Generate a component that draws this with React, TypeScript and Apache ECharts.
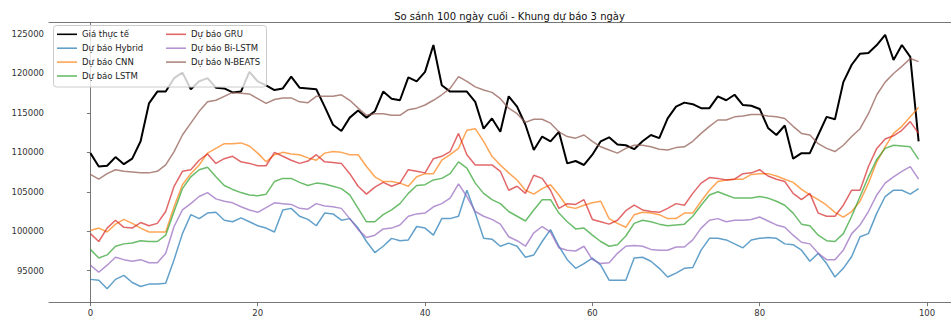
import React, { useEffect, useRef } from "react";
import * as echarts from "echarts";

const TITLE = "So sánh 100 ngày cuối - Khung dự báo 3 ngày";
const SERIES_NAMES = [
  "Giá thực tế",
  "Dự báo Hybrid",
  "Dự báo CNN",
  "Dự báo LSTM",
  "Dự báo GRU",
  "Dự báo Bi-LSTM",
  "Dự báo N-BEATS",
];
const X_TICKS = [0, 20, 40, 60, 80, 100];
const Y_TICKS = [95000, 100000, 105000, 110000, 115000, 120000, 125000];

// values in thousands
const actual = [
  109.9, 108.2, 108.3, 109.4, 108.5, 109.2, 111.4, 116.2, 117.7, 117.7,
  119.4, 120.1, 118.0, 119.0, 119.4, 118.2, 118.1, 117.6, 117.7, 120.2,
  119.0, 118.5, 117.9, 118.1, 119.6, 118.2, 118.1, 118.0, 115.8, 113.5,
  112.7, 114.4, 115.3, 114.4, 115.2, 117.7, 116.8, 116.6, 119.5, 119.0,
  120.2, 123.6, 118.5, 117.7, 117.7, 117.7, 116.4, 113.0, 114.3, 112.6,
  117.1, 115.8, 113.5, 110.3, 112.0, 111.4, 112.6, 108.6, 108.9, 108.4,
  109.7, 111.4, 111.9, 111.0, 110.9, 110.4, 111.4, 112.2, 111.8, 114.3,
  115.8, 116.3, 116.1, 115.6, 115.6, 117.1, 116.6, 117.3, 116.0, 115.9,
  115.5, 113.1, 112.2, 113.4, 109.2, 109.9, 109.9, 112.2, 114.5, 114.2,
  118.9, 121.1, 122.5, 122.6, 123.6, 124.9, 121.7, 123.6, 122.1, 111.4,
];
const hybrid = [
  93.9, 93.8, 92.7, 93.9, 94.4, 93.5, 93.0, 93.3, 93.3, 93.4,
  96.4, 99.7, 102.1, 101.6, 102.3, 102.4, 101.4, 101.2, 101.7, 101.2,
  100.7, 100.4, 99.9, 102.7, 102.9, 101.9, 101.5, 100.7, 102.3, 102.2,
  101.4, 101.6, 100.4, 98.7, 97.3, 98.1, 99.1, 98.8, 98.9, 100.6,
  100.4, 99.5, 101.6, 101.6, 101.9, 105.2, 102.3, 99.1, 99.0, 98.1,
  98.5, 98.1, 96.7, 97.0, 98.7, 100.2, 98.1, 96.4, 95.3, 95.9,
  96.6, 95.7, 93.8, 93.8, 93.8, 96.6, 96.7, 96.2, 95.3, 94.2,
  94.7, 95.3, 95.4, 97.6, 99.1, 99.1, 98.9, 98.4, 97.9, 98.9,
  99.1, 99.2, 99.1, 98.4, 98.3, 97.6, 96.2, 97.2, 95.9, 94.2,
  95.3, 96.8, 99.3, 99.7, 102.3, 104.4, 105.2, 105.2, 104.7, 105.4,
];
const cnn = [
  100.1, 100.4, 99.9, 100.9, 101.5, 101.0, 100.4, 99.9, 99.9, 99.9,
  103.1, 105.9, 107.3, 108.4, 109.9, 110.5, 111.1, 111.1, 111.2, 110.8,
  109.9, 108.8, 109.7, 110.0, 109.8, 109.7, 109.3, 109.0, 109.9, 110.1,
  110.0, 109.7, 109.7, 108.2, 106.9, 106.3, 106.3, 106.1, 105.7, 106.9,
  107.3, 107.3, 109.0, 109.7, 110.5, 112.8, 113.0, 111.4, 109.5, 108.4,
  107.4, 106.5, 105.2, 104.7, 105.4, 105.9, 104.6, 103.1, 102.9, 103.3,
  103.6, 103.8, 101.6, 101.0, 100.5, 102.1, 102.4, 102.3, 102.1, 101.6,
  101.6, 102.3, 102.3, 103.8, 105.2, 106.3, 106.5, 106.6, 106.6, 107.2,
  107.3, 107.3, 107.0, 106.6, 106.2, 105.3, 104.6, 104.0, 103.3, 102.4,
  101.8, 102.5, 103.8, 106.1, 108.8, 110.7, 112.4, 113.3, 114.5, 115.7,
];
const lstm = [
  97.7, 96.6, 97.0, 98.1, 98.4, 98.5, 98.8, 98.7, 98.7, 99.5,
  102.5, 105.4, 106.9, 107.8, 108.1, 106.9, 105.8, 105.3, 104.9, 104.6,
  104.5, 104.7, 106.3, 106.7, 106.7, 106.2, 105.8, 106.1, 106.0, 105.7,
  105.4, 104.6, 102.9, 101.2, 101.2, 102.1, 102.7, 103.5, 104.8, 105.8,
  105.9, 106.5, 106.7, 107.3, 108.8, 108.0, 106.1, 104.8, 104.0, 103.5,
  102.5, 101.9, 101.3, 102.7, 104.0, 104.0, 102.3, 101.2, 100.3, 100.4,
  99.5, 98.7, 98.1, 98.3, 99.4, 101.0, 101.4, 101.2, 100.9, 100.7,
  100.8, 100.9, 101.9, 103.3, 104.6, 105.0, 104.6, 104.2, 104.2, 104.2,
  104.4, 104.2, 103.8, 103.3, 102.3, 100.9, 100.7, 99.5, 98.8, 98.7,
  99.7, 101.9, 104.4, 106.9, 109.1, 110.5, 110.9, 110.8, 110.7, 109.1,
];
const gru = [
  99.7, 98.7, 100.4, 101.4, 100.5, 100.4, 101.1, 100.7, 101.0, 102.5,
  105.7, 107.6, 107.8, 109.0, 109.8, 108.6, 109.2, 109.5, 108.8, 108.6,
  108.3, 108.3, 110.0, 109.5, 109.0, 108.6, 108.9, 109.7, 108.8, 108.7,
  108.6, 107.3, 105.7, 104.7, 105.6, 106.2, 105.7, 106.1, 107.8, 107.6,
  107.4, 109.2, 109.5, 110.1, 112.4, 109.7, 108.4, 108.4, 108.4, 107.6,
  105.2, 105.7, 104.8, 107.1, 106.7, 105.2, 102.9, 103.5, 103.4, 104.0,
  101.5, 101.2, 100.9, 101.4, 102.6, 103.3, 102.7, 102.5, 102.4, 102.9,
  103.5, 103.3, 104.8, 106.1, 106.8, 106.7, 106.5, 106.6, 107.3, 107.4,
  107.8, 107.0, 106.6, 106.3, 104.8, 104.0, 104.8, 102.3, 101.9, 101.9,
  103.3, 105.2, 105.2, 108.2, 110.5, 111.7, 112.1, 112.8, 113.9, 112.4,
];
const bilstm = [
  95.7, 94.8, 95.7, 96.7, 96.4, 96.2, 96.4, 96.0, 96.0, 97.2,
  100.6, 102.7, 103.5, 104.4, 104.9, 104.1, 103.8, 103.6, 103.1, 102.7,
  102.4, 103.0, 103.6, 103.5, 103.4, 102.9, 102.8, 103.5, 103.2, 103.1,
  102.9, 101.6, 100.2, 99.2, 99.5, 100.3, 100.4, 100.8, 101.9, 102.2,
  102.3, 103.1, 103.5, 104.2, 106.0, 104.4, 102.5, 101.9, 101.5, 100.9,
  99.3, 98.8, 98.1, 99.8, 100.6, 99.9, 97.9, 97.6, 97.5, 98.1,
  96.4, 95.9, 96.0, 97.2, 98.1, 98.2, 98.1, 97.7, 97.6, 97.6,
  98.0, 98.0, 98.9, 100.4, 101.4, 101.6, 101.2, 101.4, 101.4, 101.5,
  101.8, 101.3, 100.8, 100.5, 99.5, 98.6, 98.4, 97.2, 96.4, 96.4,
  97.6, 99.7, 100.8, 102.5, 104.6, 106.1, 106.9, 107.6, 108.2, 106.6,
];
const nbeats = [
  107.2, 106.6, 107.3, 107.8, 107.6, 107.5, 107.4, 107.4, 107.6, 108.4,
  110.1, 112.2, 113.7, 115.2, 116.4, 116.6, 117.1, 117.6, 117.5, 117.4,
  116.8, 116.2, 116.7, 116.9, 116.9, 116.4, 116.3, 117.1, 117.1, 117.1,
  117.3, 116.6, 115.6, 114.7, 114.9, 114.9, 114.7, 114.7, 115.4, 115.6,
  116.0, 116.6, 117.3, 118.1, 119.6, 119.0, 118.3, 117.9, 117.6, 116.8,
  115.6, 114.9, 113.8, 114.2, 114.2, 113.7, 112.6, 112.0, 111.8, 112.2,
  111.4, 110.7, 110.3, 109.9, 110.5, 110.9, 110.9, 110.7, 110.4, 110.3,
  110.6, 110.7, 111.4, 112.4, 113.3, 114.1, 114.1, 114.5, 114.6, 114.8,
  114.8, 114.6, 114.5, 114.3, 113.3, 112.4, 112.2, 111.1, 110.5, 110.1,
  110.9, 112.0, 113.0, 114.9, 117.3, 118.9, 120.0, 120.9, 121.9, 121.5,
];

const ALL = [actual, hybrid, cnn, lstm, gru, bilstm, nbeats];
const COLORS = ["#000000", "#1f77b4", "#ff7f0e", "#2ca02c", "#d62728", "#9467bd", "#8c564b"];
const FONT = "DejaVu Sans";

export default function App() {
  const ref = useRef<HTMLDivElement>(null);
  useEffect(() => {
    if (!ref.current) return;
    const chart = echarts.init(ref.current, null, { renderer: "svg" });
    const series = ALL.map((arr, k) => ({
      name: SERIES_NAMES[k],
      type: "line",
      xAxisIndex: 0,
      yAxisIndex: 0,
      data: arr.map((v, i) => [i, Math.round(v * 1000)]),
      showSymbol: false,
      symbol: "none",
      color: COLORS[k],
      lineStyle: {
        color: COLORS[k],
        width: k === 0 ? 2 : 1.5,
        opacity: k === 0 ? 1 : 0.7,
      },
      itemStyle: { color: COLORS[k], opacity: k === 0 ? 1 : 0.7 },
      z: 2,
    }));
    const legendData = SERIES_NAMES.map((name, k) => ({
      name,
      icon: "rect",
      itemStyle: { color: COLORS[k], opacity: k === 0 ? 1 : 0.7 },
    }));
    const legendCommon = {
      orient: "vertical",
      top: 29.3,
      padding: 0,
      itemWidth: 20,
      itemHeight: 1.6,
      itemGap: 3.9,
      textStyle: { fontFamily: FONT, fontSize: 8.5, lineHeight: 10, color: "#222" },
      z: 20,
      selectedMode: false,
    };
    const axisLineStyle = { color: "#555", width: 0.8 };
    chart.setOption({
      animation: false,
      backgroundColor: "#ffffff",
      title: {
        text: TITLE,
        left: 504.5,
        textAlign: "center",
        top: 6,
        textStyle: { fontFamily: FONT, fontSize: 10, fontWeight: "normal", color: "#111" },
      },
      grid: {
        left: 49,
        top: 22.7,
        right: 0,
        bottom: 20.3,
        show: false,
      },
      legend: [
        { ...legendCommon, left: 57, data: legendData.slice(0, 4) },
        { ...legendCommon, left: 166, data: legendData.slice(4) },
      ],
      graphic: [
        {
          type: "rect",
          z: 10,
          shape: { x: 53.5, y: 25.5, width: 213, height: 61.5, r: 3 },
          style: { fill: "rgba(255,255,255,0.8)", stroke: "#cccccc", lineWidth: 1 },
        },
      ],
      xAxis: [
        {
          type: "value",
          min: -4.95,
          max: 102.87,
          axisLine: { show: true, lineStyle: axisLineStyle },
          axisTick: { show: true, length: 3.5, lineStyle: axisLineStyle, customValues: X_TICKS },
          axisLabel: {
            customValues: X_TICKS,
            margin: 5.5,
            fontFamily: FONT,
            fontSize: 8.5,
            color: "#333",
            formatter: (v: number) => String(v),
          },
          splitLine: { show: false },
        },
        {
          type: "value",
          position: "top",
          min: -4.95,
          max: 102.87,
          axisLine: { show: true, lineStyle: axisLineStyle },
          axisTick: { show: false },
          axisLabel: { show: false },
          splitLine: { show: false },
        },
      ],
      yAxis: {
        type: "value",
        min: 90944,
        max: 126432,
        axisLine: { show: true, lineStyle: axisLineStyle },
        axisTick: { show: true, length: 3.5, lineStyle: axisLineStyle, customValues: Y_TICKS },
        axisLabel: {
          customValues: Y_TICKS,
          margin: 5,
          fontFamily: FONT,
          fontSize: 8.5,
          color: "#333",
          formatter: (v: number) => String(v),
        },
        splitLine: { show: false },
      },
      series,
    });
    return () => chart.dispose();
  }, []);
  return (
    <div
      ref={ref}
      style={{ position: "fixed", left: 0, top: 0, width: 951, height: 323, background: "#fff" }}
    />
  );
}
